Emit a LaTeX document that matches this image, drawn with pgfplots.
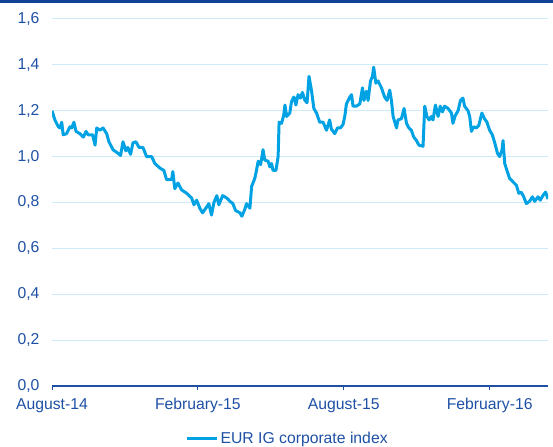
\documentclass[border=0pt]{standalone}
\usepackage{pgfplots}
\pgfplotsset{compat=1.18}
\usepackage{fontspec}
\setmainfont{Liberation Sans}
\definecolor{txtblue}{RGB}{30,80,165}
\definecolor{linblue}{RGB}{0,162,228}
\definecolor{gridblue}{RGB}{205,235,248}
\definecolor{barblue}{RGB}{15,65,150}
\begin{document}
\begin{tikzpicture}
\useasboundingbox (0,0) rectangle (553bp,447bp);
\fill[barblue] (0,444bp) rectangle (553bp,447bp);
\begin{axis}[
    at={(52bp,61bp)}, anchor=south west,
    scale only axis,
    width=496bp, height=367bp,
    xmin=0, xmax=20.4,
    ymin=0, ymax=1.6,
    xtick={0,6,12,18},
    xticklabels={August-14,February-15,August-15,February-16},
    ytick={0,0.2,...,1.6},
    yticklabels={{0,0},{0,2},{0,4},{0,6},{0,8},{1,0},{1,2},{1,4},{1,6}},
    axis x line*=bottom,
    axis y line*=left,
    y axis line style={draw=none},
    ytick style={draw=none},
    ymajorgrids,
    grid style={gridblue, line width=1pt},
    tick align=outside,
    major tick length=4bp,
    xtick style={txtblue, line width=1pt},
    x axis line style={txtblue, line width=1.2pt, -},
    tick label style={font=\fontsize{15.8}{18}\selectfont, text=txtblue},
    yticklabel style={xshift=-5bp},
    xticklabel style={yshift=-5bp},
    legend style={at={(0.475,-0.115)}, anchor=north, draw=none, fill=none,
        font=\fontsize{15.8}{18}\selectfont, text=txtblue,
        legend cell align=left},
    legend image code/.code={\draw[#1, line width=3pt] (0,0) -- (30bp,0);},
]
\addplot[linblue, line width=3pt, line join=round] table {
x y
0.00 1.20
0.12 1.16
0.26 1.13
0.33 1.125
0.40 1.15
0.46 1.095
0.60 1.10
0.74 1.13
0.81 1.125
0.90 1.15
0.99 1.11
1.15 1.10
1.29 1.085
1.40 1.11
1.49 1.095
1.67 1.095
1.77 1.05
1.84 1.125
1.97 1.115
2.10 1.125
2.25 1.10
2.34 1.065
2.51 1.03
2.71 1.015
2.82 1.005
2.92 1.065
3.04 1.025
3.12 1.04
3.23 1.01
3.33 1.06
3.45 1.065
3.58 1.04
3.74 1.04
3.89 1.00
4.10 1.00
4.23 0.97
4.44 0.95
4.60 0.94
4.71 0.90
4.92 0.90
4.97 0.935
5.05 0.86
5.18 0.885
5.33 0.855
5.54 0.84
5.74 0.82
5.84 0.79
5.95 0.81
6.08 0.775
6.19 0.755
6.36 0.78
6.45 0.795
6.56 0.745
6.66 0.80
6.78 0.83
6.86 0.79
7.02 0.83
7.18 0.82
7.32 0.805
7.44 0.795
7.55 0.765
7.73 0.755
7.81 0.74
7.93 0.77
8.00 0.795
8.14 0.775
8.21 0.87
8.34 0.905
8.41 0.94
8.48 0.98
8.58 0.965
8.68 1.03
8.75 0.985
8.89 0.98
8.96 0.955
9.03 0.97
9.09 0.94
9.21 0.94
9.30 1.00
9.34 1.15
9.44 1.145
9.53 1.18
9.58 1.225
9.65 1.175
9.78 1.19
9.85 1.24
9.95 1.26
10.03 1.225
10.12 1.27
10.22 1.255
10.30 1.28
10.40 1.245
10.49 1.235
10.57 1.35
10.67 1.29
10.77 1.21
10.88 1.19
11.01 1.15
11.15 1.15
11.29 1.115
11.42 1.16
11.49 1.12
11.63 1.10
11.74 1.125
11.86 1.125
11.97 1.14
12.04 1.175
12.11 1.23
12.25 1.26
12.32 1.27
12.38 1.22
12.52 1.22
12.66 1.23
12.77 1.30
12.83 1.245
12.93 1.285
13.00 1.245
13.10 1.33
13.18 1.35
13.23 1.39
13.32 1.32
13.41 1.33
13.55 1.30
13.68 1.26
13.78 1.245
13.89 1.29
13.96 1.245
14.03 1.175
14.17 1.125
14.23 1.16
14.37 1.165
14.48 1.21
14.58 1.145
14.68 1.125
14.78 1.115
14.88 1.085
14.99 1.07
15.09 1.05
15.26 1.045
15.33 1.22
15.42 1.175
15.51 1.16
15.60 1.175
15.67 1.16
15.77 1.225
15.88 1.175
15.97 1.22
16.06 1.195
16.15 1.22
16.29 1.21
16.43 1.19
16.49 1.145
16.59 1.18
16.70 1.20
16.80 1.245
16.90 1.255
16.97 1.22
17.11 1.20
17.18 1.175
17.25 1.11
17.34 1.13
17.45 1.125
17.55 1.135
17.68 1.19
17.79 1.165
17.89 1.15
18.00 1.115
18.11 1.095
18.21 1.06
18.32 1.015
18.41 1.00
18.51 1.03
18.55 1.07
18.62 0.97
18.71 0.94
18.82 0.905
18.96 0.89
19.10 0.875
19.20 0.84
19.30 0.845
19.40 0.825
19.51 0.795
19.64 0.805
19.76 0.825
19.85 0.805
19.99 0.825
20.08 0.81
20.19 0.83
20.30 0.845
20.40 0.815
};
\addlegendentry{EUR IG corporate index}
\end{axis}
\end{tikzpicture}
\end{document}
